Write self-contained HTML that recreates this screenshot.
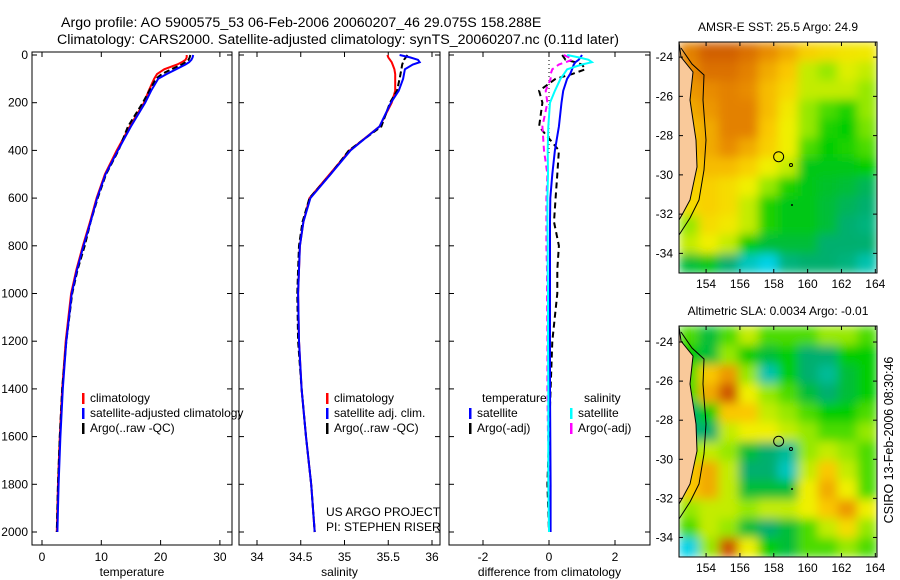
<!DOCTYPE html>
<html><head><meta charset="utf-8">
<style>
html,body{margin:0;padding:0;background:#fff;}
svg{display:block;font-family:"Liberation Sans",sans-serif;}
text{fill:#000;}
</style></head>
<body>
<svg id="fig" width="900" height="580" viewBox="0 0 900 580" xmlns="http://www.w3.org/2000/svg">
<defs>
<filter id="smooth" x="0" y="0" width="1" height="1"><feGaussianBlur stdDeviation="5" edgeMode="duplicate"/></filter>
<clipPath id="clip-sst"><rect x="679" y="42" width="198" height="231"/></clipPath>
<clipPath id="clip-sla"><rect x="679" y="326" width="198" height="231"/></clipPath>
</defs>
<text x="61" y="27" font-size="14.2">Argo profile: AO 5900575_53 06-Feb-2006 20060207_46 29.075S 158.288E</text>
<text x="57" y="44" font-size="14.2">Climatology: CARS2000. Satellite-adjusted climatology: synTS_20060207.nc (0.11d later)</text>
<g id="plots"></g>
<text transform="translate(893,440) rotate(-90)" text-anchor="middle" font-size="12.5">CSIRO 13-Feb-2006 08:30:46</text>
</svg>
<script>
// ---- profile data ----
const depths   = [0,10,20,30,40,60,80,100,150,200,300,400,500,600,700,800,900,1000,1200,1400,1600,1800,2000];
const climT    = [24.4,24.4,24.2,23.6,22.8,20.6,19.4,18.9,18.0,17.2,14.8,12.6,10.6,9.2,8.1,6.9,5.8,4.9,4.0,3.4,3.0,2.7,2.5];
const satT     = [25.5,25.4,25.2,24.8,24.2,22.6,21.0,19.6,18.4,17.4,15.0,12.8,10.7,9.3,8.2,7.0,5.9,5.0,4.1,3.5,3.1,2.8,2.6];
const argoT    = [25.0,24.9,24.7,24.2,23.6,21.8,20.2,19.2,18.1,17.0,14.5,12.9,10.8,9.4,8.2,7.2,6.0,5.1,4.1,3.4,3.0,2.7,2.5];
const climS    = [35.49,35.50,35.52,35.54,35.55,35.57,35.58,35.58,35.58,35.54,35.40,35.06,34.83,34.60,34.53,34.49,34.48,34.47,34.48,34.51,34.56,34.62,34.66];
const satS     = [35.63,35.75,35.84,35.86,35.78,35.69,35.68,35.67,35.62,35.53,35.40,35.07,34.84,34.61,34.53,34.49,34.48,34.47,34.48,34.51,34.56,34.62,34.66];
const argoS    = [35.72,35.70,35.68,35.67,35.66,35.65,35.64,35.63,35.60,35.52,35.42,35.05,34.84,34.60,34.52,34.48,34.47,34.46,34.47,34.51,34.56,34.62,34.66];
// difference-panel series
const dSatT    = [1.0,0.95,0.9,0.8,0.75,0.7,0.64,0.55,0.43,0.38,0.3,0.18,0.1,0.04,0.03,0.03,0.03,0.03,0.03,0.03,0.04,0.05,0.05];
const dArgoT   = [0.4,0.45,0.5,0.8,1.0,1.1,0.7,0.2,-0.3,-0.2,-0.3,0.3,0.25,0.2,0.15,0.3,0.25,0.25,0.1,0.05,0.0,-0.05,0.0];
const dSatS    = [0.55,0.9,1.2,1.3,1.0,0.55,0.45,0.35,0.18,0.03,-0.02,-0.04,-0.03,-0.05,-0.05,-0.04,-0.04,-0.03,-0.03,-0.02,-0.02,-0.02,0.0];
const dArgoS   = [0.45,0.6,0.7,0.5,0.3,0.1,0.05,0.05,-0.1,-0.05,-0.2,-0.15,-0.05,-0.08,-0.08,-0.08,-0.06,-0.06,-0.05,-0.05,-0.03,0.05,0.0];
const depthTicks = [0,200,400,600,800,1000,1200,1400,1600,1800,2000];
const tempTicks  = [0,10,20,30];
const salTicks   = [34,34.5,35,35.5,36];
const diffTicks  = [-2,0,2];
// ---- map data (rows north->south, cols west->east) ----
const lonTicks = [154,156,158,160,162,164];
const latTicks = [-24,-26,-28,-30,-32,-34];
const sstGrid = [
[0.82,0.88,0.88,0.85,0.80,0.75,0.68,0.65,0.63,0.62],
[0.80,0.85,0.85,0.82,0.75,0.70,0.55,0.50,0.58,0.55],
[0.78,0.80,0.82,0.80,0.72,0.66,0.55,0.55,0.55,0.50],
[0.75,0.78,0.82,0.82,0.72,0.62,0.50,0.45,0.42,0.50],
[0.72,0.75,0.82,0.82,0.70,0.60,0.50,0.42,0.40,0.48],
[0.72,0.75,0.80,0.75,0.68,0.60,0.45,0.40,0.42,0.45],
[0.70,0.72,0.72,0.68,0.60,0.55,0.38,0.38,0.38,0.40],
[0.68,0.68,0.65,0.60,0.50,0.42,0.38,0.36,0.35,0.32],
[0.65,0.68,0.65,0.55,0.42,0.38,0.38,0.35,0.32,0.30],
[0.50,0.65,0.62,0.55,0.42,0.38,0.38,0.35,0.30,0.28],
[0.55,0.60,0.55,0.40,0.35,0.35,0.35,0.30,0.30,0.30],
[0.35,0.38,0.30,0.20,0.15,0.28,0.30,0.30,0.28,0.22]];
const slaGrid = [
[0.45,0.35,0.45,0.55,0.45,0.45,0.45,0.50,0.50,0.45],
[0.40,0.35,0.50,0.40,0.35,0.40,0.30,0.30,0.40,0.40],
[0.45,0.70,0.78,0.50,0.22,0.40,0.30,0.25,0.35,0.40],
[0.45,0.75,0.90,0.60,0.50,0.45,0.35,0.30,0.35,0.40],
[0.30,0.40,0.70,0.70,0.55,0.50,0.45,0.40,0.40,0.45],
[0.28,0.30,0.55,0.60,0.60,0.55,0.50,0.45,0.45,0.50],
[0.50,0.55,0.50,0.35,0.30,0.25,0.50,0.55,0.50,0.45],
[0.70,0.75,0.55,0.30,0.30,0.20,0.55,0.70,0.55,0.45],
[0.70,0.75,0.55,0.35,0.35,0.35,0.60,0.75,0.60,0.45],
[0.50,0.55,0.55,0.50,0.55,0.55,0.60,0.70,0.78,0.60],
[0.45,0.55,0.50,0.35,0.30,0.35,0.45,0.55,0.65,0.50],
[0.15,0.50,0.90,0.60,0.40,0.35,0.45,0.45,0.50,0.45]];
const argoLon = 158.288, argoLat = -29.075;

const NS="http://www.w3.org/2000/svg";
const root=document.getElementById('plots');
function el(tag,attrs,parent){const e=document.createElementNS(NS,tag);for(const k in attrs)e.setAttribute(k,attrs[k]);(parent||root).appendChild(e);return e;}

const pTop=52,pBot=545;
const yD=d=>55+d*0.2385;

function panel(name,x0,x1,xs,ticks,fmt,label){
  const g=el('g',{});
  
  
  const r=el('rect',{x:x0,y:pTop,width:x1-x0,height:pBot-pTop,fill:'none',stroke:'#000','stroke-width':1},g);
  
  
  depthTicks.forEach(d=>{
    el('line',{x1:x0,x2:x0+5,y1:yD(d),y2:yD(d),stroke:'#000'},g);
    el('line',{x1:x1,x2:x1-5,y1:yD(d),y2:yD(d),stroke:'#000'},g);
  });
  ticks.forEach(v=>{
    const x=xs(v);
    el('line',{x1:x,x2:x,y1:pBot,y2:pBot-5,stroke:'#000'},g);
    el('line',{x1:x,x2:x,y1:pTop,y2:pTop+5,stroke:'#000'},g);
    const t=el('text',{x:x,y:561,'text-anchor':'middle','font-size':12},g);
    t.textContent=fmt(v);
    
    
  });
  const lt=el('text',{x:(x0+x1)/2,y:576,'text-anchor':'middle','font-size':12},g);
  lt.textContent=label;
  
  
  return g;
}
function line(g,xs,vals,color,dash,nm){
  const pts=vals.map((v,i)=>xs(v).toFixed(1)+','+yD(depths[i]).toFixed(1)).join(' ');
  const p=el('polyline',{points:pts,fill:'none',stroke:color,'stroke-width':2,'stroke-dasharray':dash||'none'},g);
  
  
}
function legend(g,x,y,color,txt,nm){
  if(color){el('rect',{x:x,y:y-9,width:2.5,height:11,fill:color},g);}
  const t=el('text',{x:x+8,y:y,'font-size':12},g);t.textContent=txt;
  
  
}

depthTicks.forEach(d=>{
  const t=el('text',{x:28,y:yD(d)+4,'text-anchor':'end','font-size':12});
  t.textContent=d;
  
  
});

// temperature
const xT=v=>42+v*5.93;
const gT=panel('temperature',32,232,xT,tempTicks,v=>v,'temperature');
line(gT,xT,climT,'#ff0000',null,'temperature-climatology-line');
line(gT,xT,argoT,'#000000','6,3','temperature-argo-line');
line(gT,xT,satT,'#0000ff',null,'temperature-satellite-line');
legend(gT,82,402,'#ff0000','climatology','legend-climatology');
legend(gT,82,417,'#0000ff','satellite-adjusted climatology','legend-satellite-adjusted');
legend(gT,82,432,'#000000','Argo(..raw -QC)','legend-argo');

// salinity
const xS=v=>257+(v-34)*87.5;
const gS=panel('salinity',239,440,xS,salTicks,v=>v,'salinity');
line(gS,xS,climS,'#ff0000',null,'salinity-climatology-line');
line(gS,xS,argoS,'#000000','6,3','salinity-argo-line');
line(gS,xS,satS,'#0000ff',null,'salinity-satellite-line');
legend(gS,326,402,'#ff0000','climatology','legend-sal-climatology');
legend(gS,326,417,'#0000ff','satellite adj. clim.','legend-sal-satellite');
legend(gS,326,432,'#000000','Argo(..raw -QC)','legend-sal-argo');
legend(gS,318,516,null,'US ARGO PROJECT','us-argo-project-note');
legend(gS,318,531,null,'PI: STEPHEN RISER','pi-note');

// difference
const xDf=v=>549+v*33;
const gD=panel('difference',449,650,xDf,diffTicks,v=>v,'difference from climatology');
el('line',{x1:xDf(0),x2:xDf(0),y1:pTop,y2:yD(420),stroke:'#000','stroke-dasharray':'1,3'},gD);
line(gD,xDf,dArgoT,'#000000','6,4','diff-temperature-argo-line');
line(gD,xDf,dArgoS,'#ff00ff','6,4','diff-salinity-argo-line');
line(gD,xDf,dSatT,'#0000ff',null,'diff-temperature-satellite-line');
line(gD,xDf,dSatS,'#00ffff',null,'diff-salinity-satellite-line');
legend(gD,474,402,null,'temperature','legend-temperature-heading');
legend(gD,469,417,'#0000ff','satellite','legend-diff-temp-satellite');
legend(gD,469,432,'#000000','Argo(-adj)','legend-diff-temp-argo');
legend(gD,576,402,null,'salinity','legend-salinity-heading');
legend(gD,570,417,'#00ffff','satellite','legend-diff-sal-satellite');
legend(gD,570,432,'#ff00ff','Argo(-adj)','legend-diff-sal-argo');

// ---- maps ----
const stops=[[0,[0,70,255]],[0.15,[0,210,230]],[0.3,[0,175,110]],[0.4,[0,205,0]],[0.5,[150,232,0]],[0.6,[240,240,0]],[0.7,[250,200,0]],[0.8,[232,140,0]],[0.9,[205,85,0]],[1,[160,30,0]]];
function cmap(v){for(let i=1;i<stops.length;i++){if(v<=stops[i][0]){const a=stops[i-1],b=stops[i],t=(v-a[0])/(b[0]-a[0]);const c=a[1].map((x,k)=>Math.round(x+(b[1][k]-x)*t));return 'rgb('+c.join(',')+')';}}return 'rgb(160,30,0)';}
const mL=679,mR=877,lonMin=152.4,lonMax=164.1;
function drawMap(name,mT,mB,latMax,latMin,grid,title){
  const g=el('g',{});
  
  
  const xL=lon=>mL+(lon-lonMin)/(lonMax-lonMin)*(mR-mL);
  const yL=lat=>mT+(latMax-lat)/(latMax-latMin)*(mB-mT);
  const nr=grid.length,nc=grid[0].length;
  const cw=(mR-mL)/nc,ch=(mB-mT)/nr;
  const clipG=el('g',{'clip-path':'url(#clip-'+name+')'},g);
  const cells=el('g',{filter:'url(#smooth)'},clipG);
  grid.forEach((row,i)=>row.forEach((v,j)=>{
    const c=el('rect',{x:(mL+j*cw).toFixed(2),y:(mT+i*ch).toFixed(2),width:(cw+0.6).toFixed(2),height:(ch+0.6).toFixed(2),fill:cmap(v)},cells);
    
    
  }));
  const o=mT-42;
  const land=el('polygon',{points:[[679,42],[681,57],[693,72],[690,100],[696,140],[697,167],[690,200],[683,213],[679,220]].map(p=>p[0]+','+(p[1]+o)).join(' '),fill:'#f9c99a',stroke:'#000','stroke-width':1},g);
  
  
  el('polyline',{points:[[681,48],[692,64],[704,75],[703,100],[706,140],[704,170],[699,200],[690,218],[679,235]].map(p=>p[0]+','+(p[1]+o)).join(' '),fill:'none',stroke:'#000','stroke-width':1},g);
  el('circle',{cx:791,cy:165+o,r:1.5,fill:'none',stroke:'#000'},g);
  el('circle',{cx:792,cy:205+o,r:1,fill:'#000'},g);
  const ac=el('circle',{cx:xL(argoLon),cy:yL(argoLat),r:5,fill:'none',stroke:'#000','stroke-width':1},g);
  
  
  el('rect',{x:mL,y:mT,width:mR-mL,height:mB-mT,fill:'none',stroke:'#000'},g);
  lonTicks.forEach(v=>{const x=xL(v);
    el('line',{x1:x,x2:x,y1:mB,y2:mB-4,stroke:'#000'},g);
    el('line',{x1:x,x2:x,y1:mT,y2:mT+4,stroke:'#000'},g);
    const t=el('text',{x:x,y:mB+15,'text-anchor':'middle','font-size':12},g);t.textContent=v;
    
    });
  latTicks.forEach(v=>{const y=yL(v);
    el('line',{x1:mL,x2:mL+4,y1:y,y2:y,stroke:'#000'},g);
    el('line',{x1:mR,x2:mR-4,y1:y,y2:y,stroke:'#000'},g);
    const t=el('text',{x:673,y:y+4,'text-anchor':'end','font-size':12},g);t.textContent=v;
    
    });
  const tt=el('text',{x:(mL+mR)/2,y:mT-11,'text-anchor':'middle','font-size':12},g);tt.textContent=title;
  
  
}
drawMap('sst',42,273,-23.23,-35.0,sstGrid,'AMSR-E SST: 25.5 Argo: 24.9');
drawMap('sla',326,557,-23.18,-35.0,slaGrid,'Altimetric SLA: 0.0034 Argo: -0.01');
</script>
</body></html>
